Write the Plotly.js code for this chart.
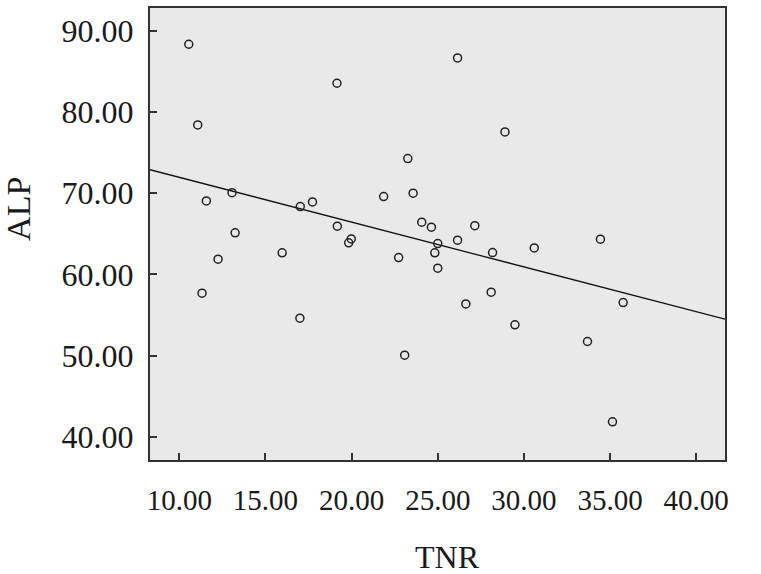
<!DOCTYPE html>
<html>
<head>
<meta charset="utf-8">
<script src="https://cdn.plot.ly/plotly-3.0.1.min.js"></script>
<style>
  html, body { margin: 0; padding: 0; background: #fff; }
  #chart { width: 761px; height: 574px; }
</style>
</head>
<body>
<div id="chart"></div>
<script>
var tnr = [10.55, 19.15, 11.07, 13.06, 11.57, 17.73, 17.02, 21.86, 13.24, 19.17,
  19.98, 19.83, 15.97, 12.25, 11.32, 26.15, 28.90, 23.26, 23.57, 24.07,
  24.63, 27.15, 26.15, 25.00, 34.44, 22.73, 24.83, 28.18, 30.60, 25.00,
  28.10, 26.63, 35.76, 29.48, 33.69, 23.08, 35.14, 17.00];
var alp = [88.33, 83.53, 78.40, 70.07, 69.05, 68.93, 68.35, 69.58, 65.12, 65.94,
  64.38, 63.89, 62.66, 61.88, 57.70, 86.64, 77.54, 74.26, 70.00, 66.43,
  65.82, 66.01, 64.22, 63.80, 64.34, 62.08, 62.66, 62.69, 63.27, 60.78,
  57.82, 56.38, 56.54, 53.80, 51.75, 50.07, 41.87, 54.62];

var xTicks = [10, 15, 20, 25, 30, 35, 40];
var yTicks = [40, 50, 60, 70, 80, 90];
var xRange = [8.3, 41.67];
var yRange = [37.17, 92.79];

// least squares fit line, drawn edge to edge like SPSS
var n = tnr.length, mx = 0, my = 0;
for (var i = 0; i < n; i++) { mx += tnr[i]; my += alp[i]; }
mx /= n; my /= n;
var sxy = 0, sxx = 0;
for (var i = 0; i < n; i++) {
  sxy += (tnr[i] - mx) * (alp[i] - my);
  sxx += (tnr[i] - mx) * (tnr[i] - mx);
}
var slope = sxy / sxx;
var intercept = my - slope * mx;
var fitX = xRange.slice();
var fitY = fitX.map(function (x) { return intercept + slope * x; });

var serif = 'Liberation Serif, Times New Roman, serif';

var data = [{
  x: fitX,
  y: fitY,
  type: 'scatter',
  mode: 'lines',
  line: {color: '#111', width: 1.3},
  hoverinfo: 'skip'
}, {
  x: tnr,
  y: alp,
  type: 'scatter',
  mode: 'markers',
  marker: {symbol: 'circle-open', size: 8, color: '#222', line: {width: 1.5}}
}];

var layout = {
  width: 761,
  height: 574,
  margin: {l: 150, r: 36, t: 8, b: 114},
  paper_bgcolor: '#ffffff',
  plot_bgcolor: '#e9e9e9',
  showlegend: false,
  font: {family: serif, color: '#1a1a1a'},
  xaxis: {
    range: xRange,
    tickvals: xTicks,
    ticktext: xTicks.map(function (v) { return v.toFixed(2); }),
    ticks: 'inside',
    ticklen: 7,
    tickwidth: 2,
    tickcolor: '#333',
    showgrid: false,
    zeroline: false,
    showline: true,
    linecolor: '#333',
    linewidth: 2,
    mirror: true,
    ticklabelstandoff: 13,
    tickfont: {family: serif, size: 29, color: '#1a1a1a'}
  },
  yaxis: {
    range: yRange,
    tickvals: yTicks,
    ticktext: yTicks.map(function (v) { return v.toFixed(2); }),
    ticks: 'inside',
    ticklen: 7,
    tickwidth: 2,
    tickcolor: '#333',
    showgrid: false,
    zeroline: false,
    showline: true,
    linecolor: '#333',
    linewidth: 2,
    mirror: true,
    ticklabelstandoff: 8,
    tickfont: {family: serif, size: 32, color: '#1a1a1a'}
  },
  annotations: [{
    text: 'TNR',
    xref: 'paper', yref: 'paper',
    x: 0.517, y: -0.215,
    xanchor: 'center', yanchor: 'middle',
    showarrow: false,
    font: {family: serif, size: 32, color: '#1a1a1a'}
  }, {
    text: 'ALP',
    xref: 'paper', yref: 'paper',
    x: -0.23, y: 0.555,
    xanchor: 'center', yanchor: 'middle',
    textangle: -90,
    showarrow: false,
    font: {family: serif, size: 34, color: '#1a1a1a'}
  }]
};

Plotly.newPlot('chart', data, layout, {displayModeBar: false, staticPlot: true});
</script>
</body>
</html>
